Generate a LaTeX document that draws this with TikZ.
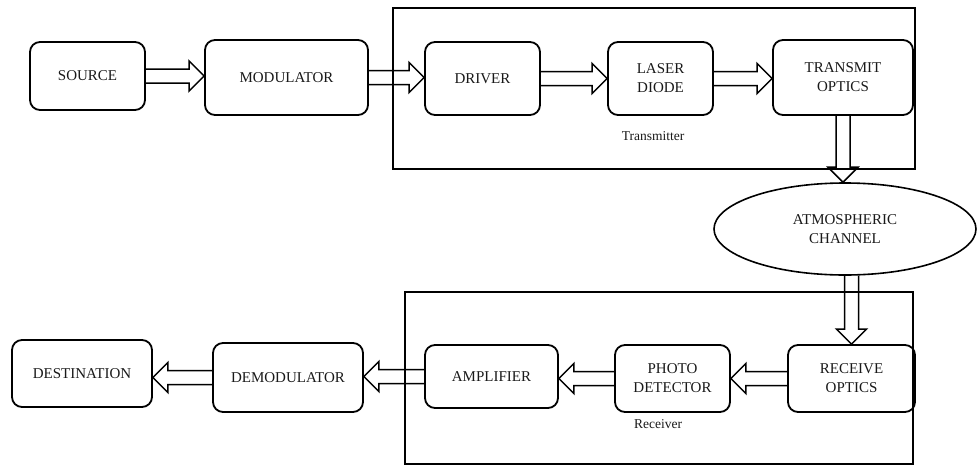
\documentclass[tikz,border=0pt]{standalone}
\usepackage{fontspec}
\setmainfont{Liberation Serif}
\usetikzlibrary{calc,shapes.geometric}
\begin{document}
\begin{tikzpicture}[x=1pt,y=-1pt,
  box/.style={draw, line width=1.8pt, rounded corners=10pt, align=center,
    inner sep=0pt, font=\fontsize{15}{19}\selectfont, text=black!90},
  frame/.style={draw, line width=1.5pt, inner sep=0pt},
  lbl/.style={font=\fontsize{13.5}{15}\selectfont, text=black!90, inner sep=0pt},
  chan/.style={draw, line width=1.6pt, ellipse, inner sep=0pt, align=center,
    font=\fontsize{15}{19}\selectfont, text=black!90},
  blockarrow/.style={draw, line width=1.5pt, line join=miter, to path={
    let \p1=(\tikztostart), \p2=(\tikztotarget),
        \n1={atan2(\y2-\y1,\x2-\x1)}, \n2={veclen(\x2-\x1,\y2-\y1)} in
    {[shift={(\p1)}, rotate=\n1]
      (0pt,-7pt) -- ({\n2*1pt-15pt},-7pt) -- ({\n2*1pt-15pt},-15pt) -- ({\n2*1pt},0pt)
      -- ({\n2*1pt-15pt},15pt) -- ({\n2*1pt-15pt},7pt) -- (0pt,7pt)}
  }}
]
\useasboundingbox (0,0) rectangle (977,466);

% frames
\node[frame, minimum width=522pt, minimum height=161pt] (tframe) at (654,88.5) {};
\node[frame, minimum width=508pt, minimum height=172pt] (rframe) at (659,378) {};
\node[lbl] (tlabel) at (653,136) {Transmitter};
\node[lbl] (rlabel) at (658,424) {Receiver};

% top row
\node[box, minimum width=115pt, minimum height=68pt] (src) at (87.5,76) {SOURCE};
\node[box, minimum width=163pt, minimum height=75pt] (mod) at (286.5,77.5) {MODULATOR};
\node[box, minimum width=115pt, minimum height=73pt] (drv) at (482.5,78.5) {DRIVER};
\node[box, minimum width=105pt, minimum height=73pt] (ld) at (660.5,78.5) {LASER\\DIODE};
\node[box, minimum width=140pt, minimum height=75pt] (tx) at (843,77.5) {TRANSMIT\\OPTICS};

% channel
\node[chan, minimum width=262pt, minimum height=92pt] (ch) at (845,229) {ATMOSPHERIC\\CHANNEL};

% bottom row
\node[box, minimum width=127pt, minimum height=67pt] (rx) at (851.5,378.5) {RECEIVE\\OPTICS};
\node[box, minimum width=115pt, minimum height=67pt] (pd) at (672.5,378.5) {PHOTO\\DETECTOR};
\node[box, minimum width=133pt, minimum height=63pt] (amp) at (491.5,376.5) {AMPLIFIER};
\node[box, minimum width=150pt, minimum height=69pt] (dem) at (288,377.5) {DEMODULATOR};
\node[box, minimum width=140pt, minimum height=67pt] (dst) at (82,373.5) {DESTINATION};

% connectors
\path[blockarrow] (src.east) to (src.east -| mod.west);
\path[blockarrow] (mod.east) to (mod.east -| drv.west);
\path[blockarrow] (drv.east) to (drv.east -| ld.west);
\path[blockarrow] (ld.east) to (ld.east -| tx.west);
\path[blockarrow] (tx.south) to (tx.south |- ch.north);
\path[blockarrow] (rx.north |- ch.south) to (rx.north);
\path[blockarrow] (rx.west) to (rx.west -| pd.east);
\path[blockarrow] (pd.west) to (pd.west -| amp.east);
\path[blockarrow] (amp.west) to (amp.west -| dem.east);
\path[blockarrow] (dem.west) to (dem.west -| dst.east);
\end{tikzpicture}
\end{document}
